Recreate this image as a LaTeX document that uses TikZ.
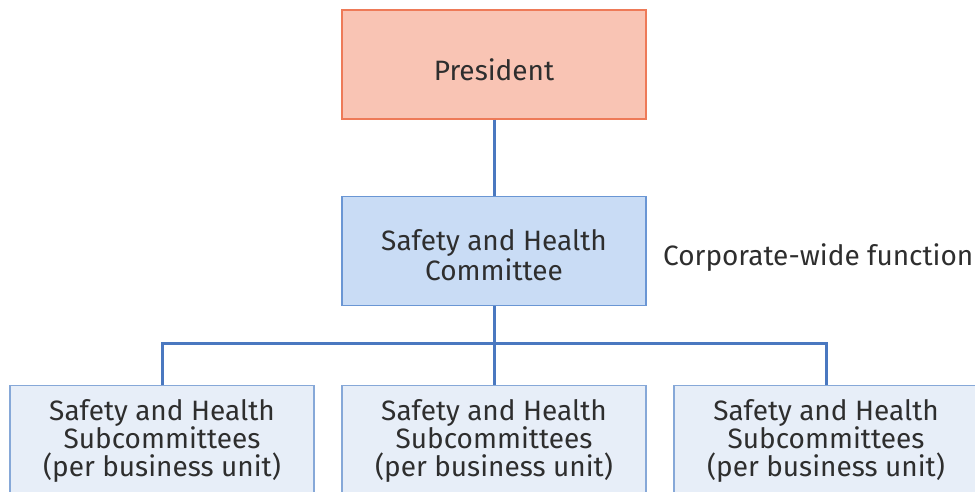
\documentclass[tikz,border=0pt]{standalone}
\usepackage{fontspec}
\setmainfont{Fira Sans}
\definecolor{presfill}{HTML}{F9C4B4}
\definecolor{presdraw}{HTML}{EE7A58}
\definecolor{comfill}{HTML}{C9DCF5}
\definecolor{comdraw}{HTML}{6A96D4}
\definecolor{subfill}{HTML}{E7EEF8}
\definecolor{subdraw}{HTML}{86A8D8}
\definecolor{conn}{HTML}{4A78C0}
\definecolor{txt}{HTML}{2E2E2E}
\begin{document}
\begin{tikzpicture}[x=1pt,y=-1pt,
  box/.style={rectangle, minimum width=304pt, minimum height=109pt, line width=1.2pt, align=center, text=txt, font=\fontsize{28}{30}\selectfont, inner sep=0pt},
  lbl/.style={text=txt, font=\fontsize{28}{28}\selectfont, align=center, inner sep=0pt},
  link/.style={draw=conn, line width=3pt}]
\useasboundingbox (0,0) rectangle (975,492);
\clip (0,0) rectangle (975,492);
\node[box, fill=presfill, draw=presdraw] (pres) at (494,64.5) {};
\node[lbl] (prest) at (494,70) {President};
\node[box, fill=comfill, draw=comdraw] (com) at (494,251) {};
\node[lbl, font=\fontsize{28}{30}\selectfont] (comt) at (494,255) {Safety and Health\\Committee};
\node[lbl, anchor=west] (corp) at (663,258) {Corporate-wide function};
\node[box, fill=subfill, draw=subdraw, anchor=north, minimum height=130pt] (s1) at (162,385) {};
\node[box, fill=subfill, draw=subdraw, anchor=north, minimum height=130pt] (s2) at (494,385) {};
\node[box, fill=subfill, draw=subdraw, anchor=north, minimum height=130pt] (s3) at (826,385) {};
\node[lbl] (t1) at (162,441) {Safety and Health\\Subcommittees\\(per business unit)};
\node[lbl] (t2) at (494,441) {Safety and Health\\Subcommittees\\(per business unit)};
\node[lbl] (t3) at (826,441) {Safety and Health\\Subcommittees\\(per business unit)};
\coordinate (bus) at (494,343);
\draw[link] (pres.south) -- (com.north);
\draw[link] (com.south) -- (bus);
\draw[link, line join=miter] (s1.north) |- (bus) -| (s3.north);
\draw[link] (bus) -- (s2.north);
\end{tikzpicture}
\end{document}
